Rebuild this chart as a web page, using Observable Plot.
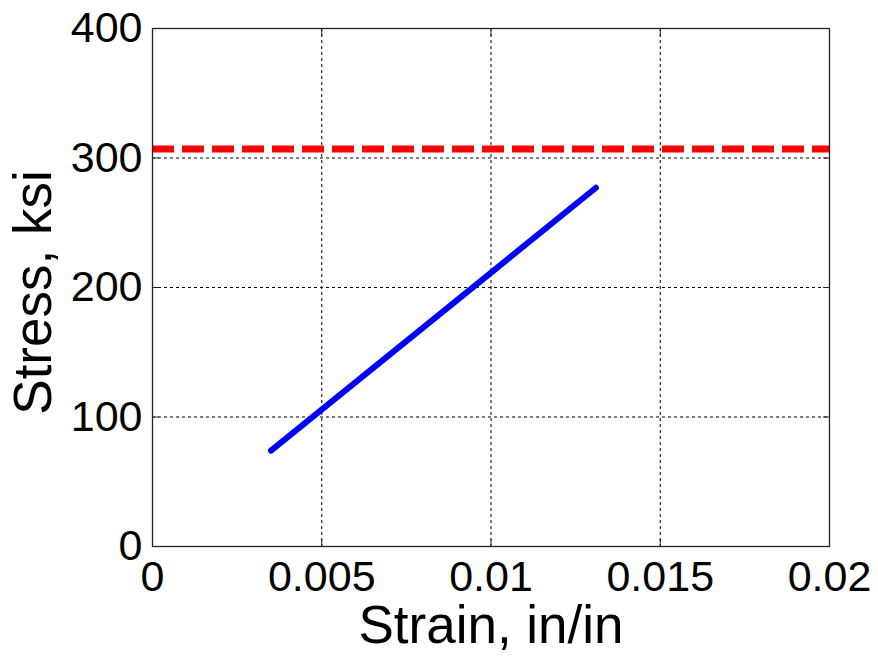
<!DOCTYPE html>
<html>
<head>
<meta charset="utf-8">
<script src="https://cdn.jsdelivr.net/npm/d3@7"></script>
<script src="https://cdn.jsdelivr.net/npm/@observablehq/plot@0.6"></script>
<style>
  html, body { margin: 0; padding: 0; background: #fff; }
  #chart svg { display: block; }
</style>
</head>
<body>
<div id="chart"></div>
<script>
// Data
const strain = [0.0035, 0.0131];
const stress = [74, 277];
const limitStress = [307];
const xTicks = [0, 0.005, 0.01, 0.015, 0.02];
const xTickLabels = ["0", "0.005", "0.01", "0.015", "0.02"];
const yTicks = [0, 100, 200, 300, 400];
const yTickLabels = ["0", "100", "200", "300", "400"];
const xLabel = "Strain, in/in";
const yLabel = "Stress, ksi";

const line = strain.map((s, i) => ({strain: s, stress: stress[i]}));
const font = "'Liberation Sans', Arial, sans-serif";

const chart = Plot.plot({
  width: 878,
  height: 656,
  marginLeft: 152,
  marginRight: 49,
  marginTop: 28,
  marginBottom: 110,
  style: {fontFamily: font, background: "white", color: "black"},
  x: {domain: [0, 0.02], ticks: xTicks},
  y: {domain: [0, 400], ticks: yTicks},
  marks: [
    Plot.gridX(xTicks, {stroke: "black", strokeOpacity: 1, strokeDasharray: "3,3", strokeWidth: 1}),
    Plot.gridY(yTicks, {stroke: "black", strokeOpacity: 1, strokeDasharray: "3,3", strokeWidth: 1}),
    Plot.ruleY(limitStress, {stroke: "#ff0000", strokeWidth: 7, strokeDasharray: "22,8"}),
    Plot.line(line, {x: "strain", y: "stress", stroke: "#0000ff", strokeWidth: 6}),
    Plot.frame({stroke: "#222", strokeWidth: 1.3}),
    // inward ticks on all sides
    Plot.axisX(xTicks, {anchor: "bottom", tickSize: -7, tickFormat: () => "", label: null, stroke: "#222"}),
    Plot.axisX(xTicks, {anchor: "top", tickSize: -7, tickFormat: () => "", label: null, stroke: "#222"}),
    Plot.axisY(yTicks, {anchor: "left", tickSize: -7, tickFormat: () => "", label: null, stroke: "#222"}),
    Plot.axisY(yTicks, {anchor: "right", tickSize: -7, tickFormat: () => "", label: null, stroke: "#222"}),
    // tick labels
    Plot.axisX(xTicks, {anchor: "bottom", tickSize: 0, tickPadding: 14, fontSize: 43, tickFormat: (d) => xTickLabels[xTicks.indexOf(d)], label: null, fill: "black"}),
    Plot.axisY(yTicks, {anchor: "left", tickSize: 0, tickPadding: 10, fontSize: 43, tickFormat: (d) => yTickLabels[yTicks.indexOf(d)], label: null, fill: "black"}),
    // axis titles
    Plot.text([xLabel], {frameAnchor: "bottom", text: d => d, dy: 80, fontSize: 53, textAnchor: "middle", lineAnchor: "middle", fill: "black"}),
    Plot.text([yLabel], {frameAnchor: "left", text: d => d, dx: -118, dy: 5, rotate: -90, fontSize: 53, textAnchor: "middle", lineAnchor: "middle", fill: "black"})
  ]
});
document.getElementById("chart").appendChild(chart);
</script>
</body>
</html>
